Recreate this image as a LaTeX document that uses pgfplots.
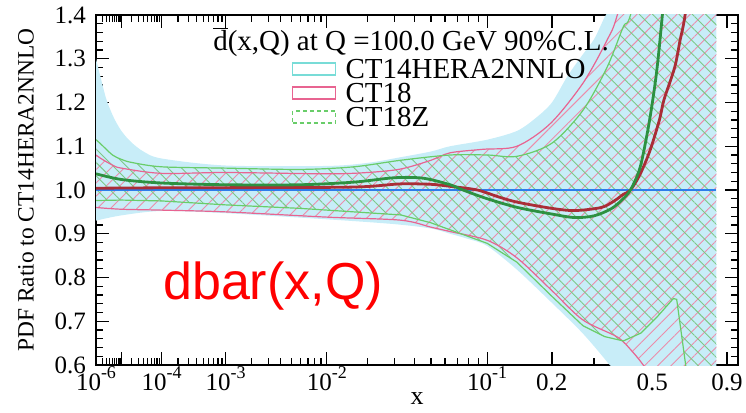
\documentclass[border=0pt]{standalone}
\usepackage{fontspec}
\setmainfont{Liberation Serif}
\newfontfamily\lsans{Liberation Sans}
\newfontfamily\lserif{Liberation Serif}
\usepackage{pgfplots}
\pgfplotsset{compat=1.18}
\usepackage{pgfplotstable}
\usepgfplotslibrary{fillbetween}
\usetikzlibrary{patterns.meta}

\definecolor{cyanfill}{RGB}{200,237,248}
\definecolor{cyanbox}{RGB}{120,220,215}
\definecolor{pinkline}{RGB}{232,100,145}
\definecolor{pinkhatch}{RGB}{236,140,170}
\definecolor{greenline}{RGB}{105,205,105}
\definecolor{greenhatch}{RGB}{125,200,135}
\definecolor{darkredc}{RGB}{170,45,55}
\definecolor{darkgreenc}{RGB}{45,145,65}
\definecolor{bluec}{RGB}{45,125,235}

\newcommand{\tk}[1]{{\lserif\fontsize{12.5}{14}\selectfont #1}}
\newcommand{\tenpow}[1]{{\lserif\fontsize{12.5}{14}\selectfont 10\raisebox{0.45em}{\fontsize{9}{10}\selectfont -#1}}}
\newcommand{\lgd}[1]{{\lserif\fontsize{14.5}{16}\selectfont #1}}

% CT14HERA2NNLO error band
\pgfplotstableread{
x y
1e-6 1.30
1.7e-6 1.255
3e-6 1.205
5.6e-6 1.165
1e-5 1.135
1.9e-5 1.11
4e-5 1.088
1e-4 1.072
1e-3 1.056
1e-2 1.055
0.02 1.062
0.033 1.075
0.05 1.088
0.064 1.10
0.1 1.115
0.139 1.135
0.17 1.165
0.2 1.20
0.233 1.26
0.27 1.31
0.3 1.345
0.33 1.395
0.36 1.44
0.45 1.65
0.83 2.5
}\tCU
\pgfplotstableread{
x y
1e-6 0.93
1e-5 0.942
1e-4 0.952
1e-3 0.947
1e-2 0.933
0.03 0.922
0.05 0.912
0.064 0.90
0.08 0.888
0.1 0.872
0.139 0.818
0.2 0.742
0.27 0.672
0.34 0.605
0.4 0.55
0.83 0.2
}\tCL
% CT18 band
\pgfplotstableread{
x y
1e-6 1.08
1.7e-6 1.072
5e-6 1.057
1e-5 1.05
1e-4 1.038
1e-3 1.04
1e-2 1.037
0.02 1.04
0.033 1.048
0.05 1.068
0.064 1.085
0.095 1.093
0.139 1.10
0.197 1.152
0.271 1.245
0.338 1.343
0.37 1.40
0.45 1.6
0.83 3.0
}\tPU
\pgfplotstableread{
x y
1e-6 0.96
1e-5 0.956
1e-4 0.954
1e-3 0.95
1e-2 0.938
0.033 0.931
0.05 0.915
0.064 0.905
0.1 0.885
0.139 0.845
0.2 0.77
0.27 0.703
0.37 0.664
0.42 0.632
0.463 0.60
0.5 0.565
0.83 0.3
}\tPL
% CT18Z band
\pgfplotstableread{
x y
1e-6 1.115
1.7e-6 1.105
5e-6 1.08
1e-5 1.07
2e-5 1.063
1e-4 1.053
1e-3 1.05
6e-3 1.047
1.6e-2 1.053
0.033 1.068
0.064 1.08
0.1 1.08
0.139 1.077
0.2 1.107
0.271 1.183
0.338 1.281
0.39 1.373
0.415 1.40
0.5 1.6
0.83 3.0
}\tGU
\pgfplotstableread{
x y
1e-6 0.976
1e-5 0.977
1e-4 0.975
1e-3 0.966
6e-3 0.958
1.6e-2 0.95
0.033 0.943
0.05 0.925
0.064 0.909
0.1 0.878
0.139 0.835
0.2 0.757
0.27 0.69
0.33 0.665
0.39 0.655
0.454 0.673
0.52 0.71
0.594 0.752
0.61 0.75
0.655 0.60
0.68 0.5
0.83 0.2
}\tGL
% central values
\pgfplotstableread{
x y
1e-6 1.037
1e-5 1.024
1e-4 1.016
1e-3 1.012
0.006 1.012
0.016 1.018
0.03 1.028
0.045 1.027
0.064 1.012
0.075 1.0
0.1 0.98
0.14 0.96
0.2 0.945
0.25 0.937
0.3 0.941
0.35 0.957
0.385 0.977
0.415 1.0
0.45 1.05
0.479 1.13
0.5 1.2
0.52 1.28
0.543 1.40
0.6 1.7
}\tGC
\pgfplotstableread{
x y
1e-6 1.004
1e-4 1.005
1e-2 1.006
0.02 1.008
0.033 1.014
0.05 1.013
0.065 1.008
0.089 1.0
0.114 0.984
0.14 0.972
0.2 0.958
0.25 0.953
0.32 0.960
0.36 0.975
0.39 0.99
0.415 1.0
0.45 1.035
0.49 1.09
0.53 1.16
0.55 1.206
0.6 1.28
0.627 1.343
0.652 1.40
0.72 1.6
}\tRC
\pgfplotstableread{
x y
1e-6 1.0
0.83 1.0
}\tREF

\pgfplotsset{table/ux/.style={x expr={(\thisrow{x})^0.2}, y=y}}

\begin{document}
\begin{tikzpicture}
\begin{axis}[
  scale only axis, width=321pt, height=175pt,
  xmin=0.063096, xmax=0.995, ymin=0.6, ymax=1.4,
  xtick={0.063096,0.1,0.158489,0.251189,0.398107,0.630957,0.72478,0.87055,0.97912},
  xticklabels={\tenpow{6},{},\tenpow{4},\tenpow{3},\tenpow{2},\tenpow{1},\tk{0.2},\tk{0.5},\tk{0.9}},
  minor xtick={0.07248,0.07860,0.08326,0.08705,0.09029,0.09312,0.09564,0.09791,
    0.11487,0.12457,0.13195,0.13797,0.14310,0.14758,0.15157,0.15518,
    0.18206,0.19743,0.20913,0.21867,0.22680,0.23390,0.24022,0.24594,
    0.28854,0.31291,0.33144,0.34657,0.35945,0.37071,0.38073,0.38979,
    0.45730,0.49592,0.52530,0.54927,0.56969,0.58753,0.60341,0.61777,
    0.78600,0.83255,0.90290,0.93117,0.95635},
  ytick={0.6,0.7,0.8,0.9,1.0,1.1,1.2,1.3,1.4},
  yticklabels={\tk{0.6},\tk{0.7},\tk{0.8},\tk{0.9},\tk{1.0},\tk{1.1},\tk{1.2},\tk{1.3},\tk{1.4}},
  minor y tick num=4,
  tick align=inside,
  major tick length=6.5pt, minor tick length=3.5pt,
  major tick style={line width=0.7pt, black},
  minor tick style={line width=0.6pt, black},
  axis line style={line width=0.9pt},
  xticklabel style={text height=9pt, text depth=1pt},
  yticklabel style={xshift=-1.5pt},
  xlabel={{\lserif\fontsize{13}{15}\selectfont x}},
  ylabel={{\lserif\fontsize{11.7}{14}\selectfont PDF Ratio to CT14HERA2NNLO}},
  xlabel style={at={(axis description cs:0.5,-0.097)}, anchor=center},
  ylabel style={at={(axis description cs:-0.109,0.5)}, anchor=center},
]
% title and legend (drawn first, bands cover them)
\node[anchor=west, inner sep=0] at (rel axis cs:0.182,0.923)
  {\lgd{$\overline{\mbox{d}}$(x,Q) at Q =100.0 GeV 90\%C.L.}};
\node[draw=cyanbox, line width=0.7pt, minimum width=21.5pt, minimum height=6pt, inner sep=0, anchor=west] at (rel axis cs:0.305,0.846) {};
\node[draw=pinkline, line width=0.7pt, minimum width=21.5pt, minimum height=6pt, inner sep=0, anchor=west] at (rel axis cs:0.305,0.777) {};
\node[draw=greenline, dash pattern=on 2pt off 1.5pt, line width=0.7pt, minimum width=21.5pt, minimum height=6pt, inner sep=0, anchor=west] at (rel axis cs:0.305,0.709) {};
\node[anchor=west, inner sep=0] at (rel axis cs:0.388,0.846) {\lgd{CT14HERA2NNLO}};
\node[anchor=west, inner sep=0] at (rel axis cs:0.388,0.777) {\lgd{CT18}};
\node[anchor=west, inner sep=0] at (rel axis cs:0.388,0.709) {\lgd{CT18Z}};

% CT14HERA2NNLO band
\addplot[draw=none, smooth, name path=cu] table[ux] {\tCU};
\addplot[draw=none, smooth, name path=cl] table[ux] {\tCL};
\addplot[fill=cyanfill, draw=none] fill between[of=cu and cl];

% CT18 band
\addplot[pinkline, line width=0.6pt, smooth, name path=pu] table[ux] {\tPU};
\addplot[pinkline, line width=0.6pt, smooth, name path=pl] table[ux] {\tPL};
\addplot[draw=none, pattern={Lines[angle=45,distance=4.7pt,line width=0.45pt]}, pattern color=pinkhatch] fill between[of=pu and pl];

% CT18Z band
\addplot[greenline, line width=0.6pt, smooth, name path=gu] table[ux] {\tGU};
\addplot[greenline, line width=0.6pt, name path=gl] table[ux] {\tGL};
\addplot[draw=none, pattern={Lines[angle=-45,distance=4.7pt,line width=0.45pt]}, pattern color=greenhatch] fill between[of=gu and gl];

% reference and central lines
\addplot[bluec, line width=0.7pt] table[ux] {\tREF};
\addplot[darkredc, line width=1.4pt, smooth] table[ux] {\tRC};
\addplot[darkgreenc, line width=1.4pt, smooth] table[ux] {\tGC};

\node[anchor=base, text=red] at (rel axis cs:0.2757,0.186) {{\lsans\fontsize{26}{30}\selectfont dbar(x,Q)}};
\end{axis}
\pgfresetboundingbox
\path ([shift={(-48pt,-23.5pt)}]current axis.south west) rectangle ([shift={(4pt,7.5pt)}]current axis.north east);
\end{tikzpicture}
\end{document}
